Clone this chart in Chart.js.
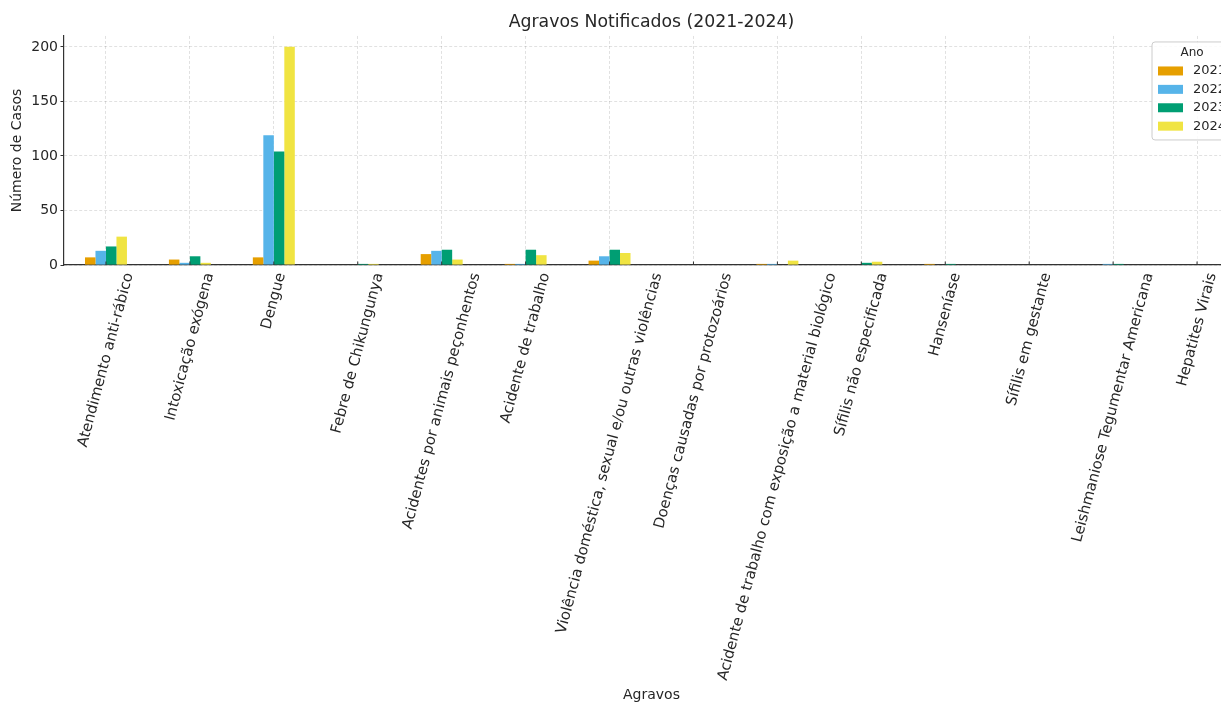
<!DOCTYPE html>
<html>
<head>
<meta charset="utf-8">
<script src="https://cdn.jsdelivr.net/npm/chart.js@4/dist/chart.umd.min.js"></script>
<style>
  html, body { margin: 0; padding: 0; background: #fff; overflow: hidden; }
  #wrap { width: 1221px; height: 704px; overflow: hidden; }
</style>
</head>
<body>
<div id="wrap"><canvas id="agravos-chart" width="1260" height="704"></canvas></div>
<script>
// dados
var categorias = [
  'Atendimento anti-rábico',
  'Intoxicação exógena',
  'Dengue',
  'Febre de Chikungunya',
  'Acidentes por animais peçonhentos',
  'Acidente de trabalho',
  'Violência doméstica, sexual e/ou outras violências',
  'Doenças causadas por protozoários',
  'Acidente de trabalho com exposição a material biológico',
  'Sífilis não especificada',
  'Hanseníase',
  'Sífilis em gestante',
  'Leishmaniose Tegumentar Americana',
  'Hepatites Virais'
]
var anos = ['2021', '2022', '2023', '2024']
var casos2021 = [7, 5, 7, 0, 10, 1, 4, 0, 1, 0, 1, 0, 0, 0]
var casos2022 = [13, 2, 119, 0, 13, 1, 8, 0, 1, 0, 0, 0, 1, 0]
var casos2023 = [17, 8, 104, 1, 14, 14, 14, 0, 0, 2, 1, 0, 1, 0]
var casos2024 = [26, 2, 200, 1, 5, 9, 11, 0, 4, 3, 0, 0, 0, 0]
var yTicks = [0, 50, 100, 150, 200]

var cores = ['#E69F00', '#56B4E9', '#009E73', '#F0E442']
var textColor = '#262626'

Chart.defaults.font.family = "'DejaVu Sans', sans-serif"
Chart.defaults.color = textColor

// rótulos do eixo x girados 75° e centrados no tick (como no matplotlib)
var xLabelsPlugin = {
  id: 'xLabels',
  afterDraw: function (chart) {
    var ctx = chart.ctx
    var xs = chart.scales.x
    var y0 = chart.chartArea.bottom
    var ang = 75 * Math.PI / 180
    var fs = 14.8
    ctx.save()
    // marcas dos ticks
    ctx.strokeStyle = '#333'
    ctx.lineWidth = 1
    chart.data.labels.forEach(function (lab, i) {
      var x = xs.getPixelForTick(i)
      ctx.beginPath()
      ctx.moveTo(x, y0)
      ctx.lineTo(x, y0 - 3.5)
      ctx.stroke()
    })
    ctx.font = fs + "px 'DejaVu Sans'"
    ctx.fillStyle = textColor
    ctx.textAlign = 'center'
    ctx.textBaseline = 'middle'
    chart.data.labels.forEach(function (lab, i) {
      var x = xs.getPixelForTick(i)
      var w = ctx.measureText(lab).width
      var h = fs * 1.17
      var H = w * Math.sin(ang) + h * Math.cos(ang)
      ctx.save()
      ctx.translate(x, y0 + 6 + H / 2)
      ctx.rotate(-ang)
      ctx.fillText(lab, 0, 0)
      ctx.restore()
    })
    ctx.restore()
  }
}

// legenda com moldura no canto superior direito
var legendBoxPlugin = {
  id: 'legendBox',
  afterDraw: function (chart) {
    var ctx = chart.ctx
    var area = chart.chartArea
    var bw = 80, bh = 98
    var bx = area.right - 7 - bw
    var by = area.top + 6
    ctx.save()
    ctx.fillStyle = 'rgba(255,255,255,0.85)'
    ctx.strokeStyle = '#cccccc'
    ctx.lineWidth = 1
    ctx.beginPath()
    ctx.roundRect(bx, by, bw, bh, 3)
    ctx.fill()
    ctx.stroke()
    ctx.fillStyle = textColor
    ctx.font = "12px 'DejaVu Sans'"
    ctx.textAlign = 'center'
    ctx.textBaseline = 'middle'
    ctx.fillText('Ano', bx + bw / 2, by + 11)
    ctx.textAlign = 'left'
    ctx.font = "13px 'DejaVu Sans'"
    chart.data.datasets.forEach(function (ds, i) {
      var cy = by + 29 + i * 18.4
      ctx.fillStyle = ds.backgroundColor
      ctx.fillRect(bx + 6, cy - 4.5, 25, 9)
      ctx.fillStyle = textColor
      ctx.fillText(ds.label, bx + 41, cy)
    })
    ctx.restore()
  }
}

var series = [casos2021, casos2022, casos2023, casos2024]
var canvas = document.getElementById('agravos-chart')

var agravosChart = new Chart(canvas.getContext('2d'), {
  type: 'bar',
  data: {
    labels: categorias,
    datasets: anos.map(function (ano, i) {
      return {
        label: ano,
        data: series[i],
        backgroundColor: cores[i],
        borderWidth: 0,
        categoryPercentage: 0.5,
        barPercentage: 1.0
      }
    })
  },
  options: {
    responsive: false,
    animation: false,
    layout: { padding: { left: 0, right: 21, top: 0, bottom: 0 } },
    plugins: {
      legend: { display: false },
      tooltip: { enabled: false },
      title: {
        display: true,
        text: 'Agravos Notificados (2021-2024)',
        fullSize: false,
        color: textColor,
        font: { size: 17.3, weight: 'normal' },
        padding: { top: 12.6, bottom: 2.6 }
      }
    },
    scales: {
      x: {
        offset: true,
        grid: {
          offset: false,
          color: 'rgba(0,0,0,0.15)',
          lineWidth: 0.8,
          drawTicks: false
        },
        border: { color: '#333', width: 1.2, dash: [3, 2] },
        ticks: { display: false },
        title: {
          display: true,
          text: 'Agravos',
          color: textColor,
          font: { size: 14 },
          padding: { top: 0, bottom: 0 }
        },
        afterFit: function (scale) { scale.height = 704 - 265 }
      },
      y: {
        min: 0,
        max: 210,
        grid: {
          color: 'rgba(0,0,0,0.15)',
          lineWidth: 0.8,
          drawTicks: true,
          tickLength: 3.5,
          tickColor: '#333',
          tickWidth: 1
        },
        border: { color: '#333', width: 1.2, dash: [3, 2] },
        ticks: {
          stepSize: 50,
          includeBounds: false,
          padding: 2.5,
          color: textColor,
          font: { size: 14 }
        },
        afterBuildTicks: function (scale) {
          scale.ticks = yTicks.map(function (v) { return { value: v } })
        },
        title: {
          display: true,
          text: 'Número de Casos',
          color: textColor,
          font: { size: 14 },
          padding: { top: 9, bottom: 0 }
        },
        afterFit: function (scale) { scale.width = 64 }
      }
    }
  },
  plugins: [xLabelsPlugin, legendBoxPlugin]
})
</script>
</body>
</html>
